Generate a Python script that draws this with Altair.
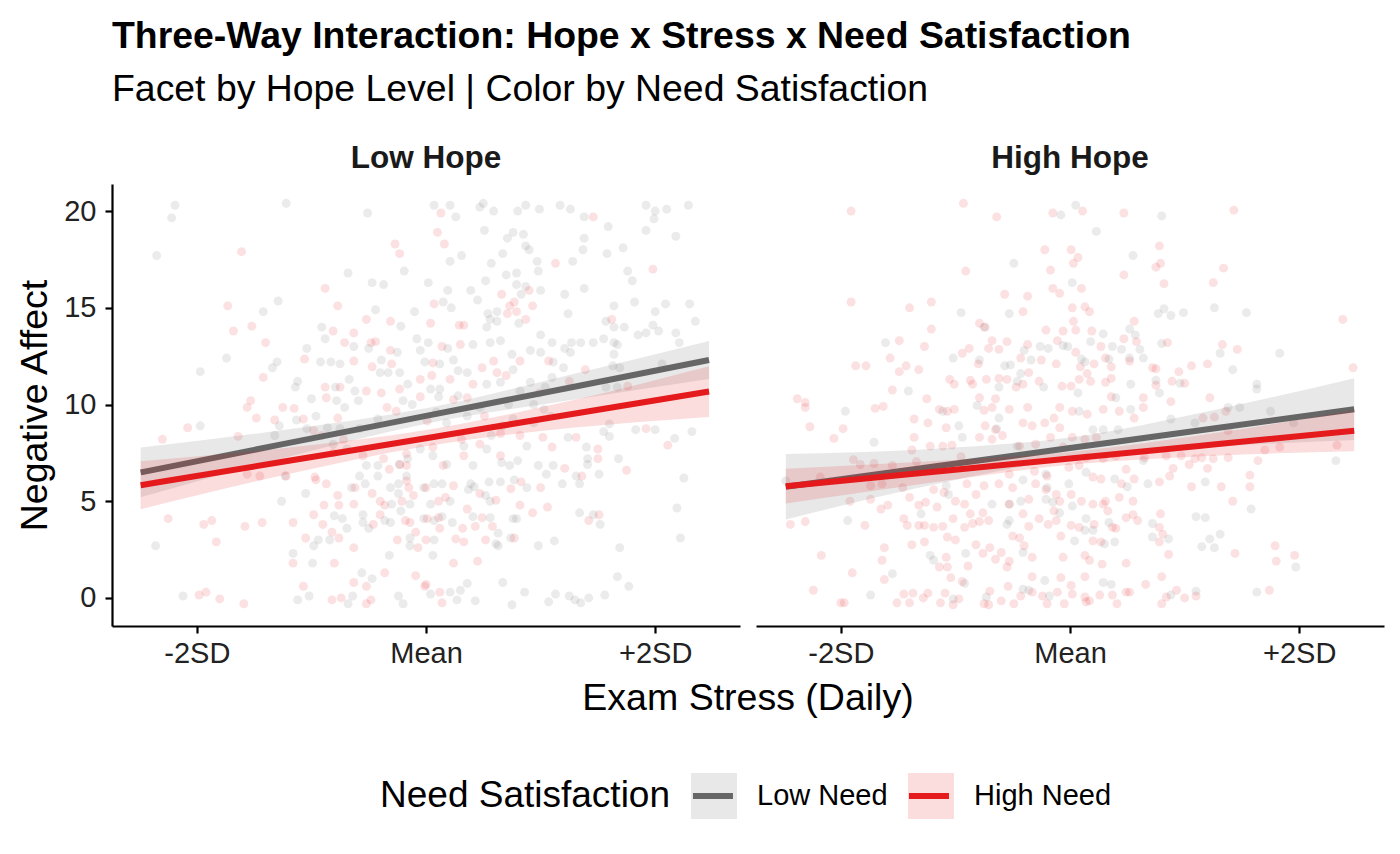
import altair as alt
import pandas as pd

FONT = "Liberation Sans"

HOPE_LEVELS = ["Low Hope", "High Hope"]
NEED_LEVELS = ["Low Need", "High Need"]
NEED_COLORS = ["#666666", "#E41A1C"]

STRESS_TICKS = [-2, 0, 2]
STRESS_TICK_LABELS = ["-2SD", "Mean", "+2SD"]
AFFECT_TICKS = [0, 5, 10, 15, 20]

# Daily observations: (exam stress in SD units, negative affect)
low_hope_low_need = [
    (-2.19, 20.3), (-2.22, 19.65), (-1.22, 20.4), (-0.51, 19.9), (-2.35, 17.7), (-0.68, 16.8),
    (-0.47, 16.3), (-0.37, 16.2), (-0.19, 16.9), (-1.29, 15.35), (-1.42, 14.8), (-1.74, 12.4),
    (-1.97, 11.7), (-0.44, 14.9), (-0.1, 14.8), (-0.91, 14.0), (-1.3, 12.2), (-1.34, 11.9),
    (-1.12, 11.2), (-1.14, 10.9), (-0.22, 14.05),
    (0.07, 20.3), (0.21, 20.3), (0.26, 19.7), (0.47, 20.2), (0.5, 20.4), (0.59, 20.0), (0.8, 20.0),
    (0.87, 20.3), (0.99, 20.1), (1.17, 20.3), (1.26, 20.1), (1.38, 19.7), (1.59, 19.2), (1.92, 20.3),
    (2.0, 20.0), (1.99, 19.6), (2.1, 20.1), (2.29, 20.3), (1.92, 19.0), (2.18, 18.7), (1.72, 18.1),
    (1.58, 17.8), (1.37, 18.0), (1.38, 18.6), (1.28, 17.4), (0.97, 17.4), (0.98, 16.9), (0.79, 16.8),
    (0.7, 16.7), (0.57, 17.3), (0.67, 17.8), (0.51, 19.0), (0.76, 18.9), (0.71, 18.6), (0.85, 18.8),
    (0.87, 18.2), (0.9, 18.0), (0.31, 17.7), (0.21, 17.4), (1.76, 16.9), (1.8, 16.4), (1.38, 16.0),
    (1.21, 15.7), (1.0, 15.9), (0.79, 16.2), (0.87, 16.1), (0.83, 15.7), (0.52, 16.4), (0.39, 15.9),
    (0.19, 15.9), (0.15, 15.3), (0.22, 15.0), (0.45, 15.4), (0.02, 16.3), (1.64, 15.1), (1.82, 15.3),
    (2.0, 14.8), (2.09, 15.2), (2.3, 15.2), (2.35, 14.3), (2.18, 13.7), (2.21, 13.2), (1.98, 14.1),
    (2.03, 13.8), (1.92, 13.7), (1.85, 13.6), (1.73, 14.0), (1.64, 14.0), (1.57, 14.3), (1.24, 14.7),
    (1.64, 13.2), (1.67, 13.1), (1.64, 12.6), (1.55, 13.4), (1.46, 13.2), (1.35, 13.2), (1.27, 13.2),
    (1.26, 12.7), (1.21, 12.9), (0.81, 14.2), (0.62, 14.8), (0.54, 14.7), (0.62, 14.3), (0.56, 14.4),
    (0.53, 14.0), (1.2, 11.9), (1.63, 12.0), (1.69, 11.9), (2.06, 12.1), (1.57, 10.9), (1.67, 10.9),
    (-1.97, 8.9), (-2.36, 2.7), (-2.12, 0.1), (-1.26, 5.0), (-1.05, 5.4), (-1.16, 2.3), (-0.99, 1.8),
    (-1.12, -0.1), (-1.02, 0.1), (-0.68, -0.3), (-0.64, 0.1), (-0.24, 0.1), (-0.2, -0.3), (-0.56, 1.3),
    (-0.47, 1.0), (-0.32, 2.2), (-0.98, 2.7), (-0.94, 3.0), (-0.84, 3.0), (-0.69, 3.6), (-0.55, 4.3),
    (-0.8, 4.25), (-0.73, 4.1), (-0.55, 3.9), (-0.5, 3.6), (-0.31, 3.9), (-0.36, 4.0), (-0.14, 4.85),
    (-0.22, 4.5), (-0.3, 4.85), (-0.02, 4.1), (-0.14, 3.1), (-0.14, 2.7), (-0.65, 5.7), (-0.53, 5.9),
    (-0.24, 5.9), (-0.31, 5.7), (-0.24, 5.4), (-0.02, 5.7), (-1.32, 8.4), (-1.28, 8.9), (-1.23, 6.3),
    (-1.13, 9.2),
    (1.83, 8.7), (2.0, 8.7), (2.17, 8.25), (2.32, 8.6), (1.6, 9.0), (1.6, 8.35), (1.55, 8.6), (1.4, 7.8),
    (1.41, 7.2), (1.41, 6.9), (1.51, 6.4), (1.68, 7.2), (2.25, 6.2), (2.19, 4.65), (2.22, 3.1), (1.69, 2.6),
    (1.67, 1.1), (1.77, 0.6), (1.56, 0.15), (1.42, 0.0), (1.35, -0.25), (1.3, -0.1), (1.25, 0.1),
    (1.13, 0.2), (1.07, -0.2), (0.86, 0.3), (0.75, -0.35), (0.67, 0.8), (0.43, -0.15), (0.36, 0.75),
    (0.3, 0.4), (0.21, 0.3), (0.27, -0.1), (0.04, 0.2), (0.06, 2.2), (0.07, 3.0), (1.24, 8.3), (1.19, 5.9),
    (1.34, 5.9), (1.31, 6.3), (0.88, 5.7), (0.77, 6.1), (0.55, 6.0), (0.65, 6.0), (0.56, 5.0), (0.52, 5.3),
    (0.39, 5.9), (0.37, 5.6), (0.42, 5.75), (0.07, 5.9), (0.14, 5.9), (0.21, 5.0), (0.04, 4.85),
    (0.14, 4.2), (0.07, 4.0), (0.23, 3.9), (0.41, 4.2), (0.56, 4.15), (0.63, 3.35), (0.61, 2.8),
    (0.63, 2.7), (0.74, 3.1), (0.79, 4.1), (0.76, 4.1), (0.98, 2.7), (1.12, 2.95), (1.34, 4.4),
    (1.46, 4.3), (1.52, 3.8),
    (-0.88, 13.4), (-1.04, 12.9), (-0.92, 12.2), (-0.83, 12.2), (-0.75, 12.1), (-0.63, 13.0), (-0.5, 12.9),
    (-0.39, 12.3), (-0.25, 12.7), (-0.08, 13.4), (0.02, 13.2), (-0.05, 12.8), (-0.01, 12.2), (0.12, 12.1),
    (0.19, 12.9), (0.24, 12.3), (0.41, 13.1), (0.56, 13.2), (0.65, 13.3), (0.75, 12.6), (0.91, 12.8),
    (1.0, 12.7), (1.1, 13.2), (1.0, 13.6), (1.11, 12.2), (-0.67, 11.3), (-0.62, 10.7), (-0.79, 10.9),
    (-1.0, 10.3), (-0.78, 10.2), (-0.71, 9.85), (-0.96, 9.4), (-0.86, 8.8), (-0.59, 10.2), (-0.4, 11.65),
    (-0.33, 11.65), (-0.23, 11.65), (-0.16, 11.05), (-0.2, 10.2), (-0.12, 10.0), (0.04, 10.8), (0.12, 10.8),
    (0.11, 10.4), (0.28, 11.75), (0.36, 11.65), (0.28, 10.45), (0.53, 11.05), (0.65, 11.15), (0.76, 11.8),
    (0.82, 10.7), (0.91, 11.15), (1.04, 10.9), (1.1, 11.4), (0.94, 10.0), (1.03, 9.75), (0.72, 10.0),
    (0.47, 9.85), (0.36, 9.4), (0.09, 9.6), (0.18, 9.05), (-0.42, 9.25), (-0.58, 8.75), (-0.75, 8.75),
    (-1.04, 8.75), (-0.81, 7.95), (-0.69, 7.7), (-0.58, 6.3), (-0.52, 6.85), (-0.42, 6.85), (-0.23, 6.9),
    (-0.16, 7.2), (-0.05, 7.7), (0.06, 7.35), (0.18, 6.9), (0.33, 7.85), (0.41, 6.85), (0.53, 7.7),
    (0.66, 7.0), (0.73, 6.85), (0.8, 7.1), (0.88, 7.85), (0.98, 6.85), (1.05, 6.4), (1.11, 6.85),
    (0.57, 8.4), (0.67, 8.9), (0.76, 9.25), (0.94, 9.05), (1.09, 9.4), (-0.42, 6.3), (-0.17, 6.3),
]

low_hope_high_need = [
    (-1.61, 17.9), (-0.27, 18.3), (-0.23, 17.8), (-0.88, 16.0), (-0.77, 15.1), (-1.73, 15.1),
    (-1.68, 13.8), (-1.52, 14.05), (-1.4, 13.2), (-1.42, 11.4), (-0.52, 14.4), (-0.31, 14.3),
    (-1.53, 10.2),
    (0.13, 19.9), (0.1, 18.9), (0.16, 18.3), (1.46, 19.7), (1.13, 17.3), (1.98, 17.0), (0.66, 15.7),
    (0.9, 15.9), (0.07, 15.2), (0.77, 15.3), (0.73, 15.1), (0.79, 14.8), (0.71, 14.7), (0.93, 15.1),
    (0.87, 14.4), (0.04, 14.2), (0.29, 14.1), (0.33, 14.1), (1.39, 11.8), (1.62, 14.4), (1.76, 10.95),
    (1.25, 11.2),
    (-2.3, 8.2), (-2.08, 8.8), (-1.64, 8.35), (-1.48, 9.3), (-1.56, 9.85), (-1.32, 9.2), (-1.25, 9.85),
    (-1.15, 9.8), (-1.56, 6.4), (-1.45, 6.3), (-1.22, 6.3), (-2.25, 4.1), (-1.94, 3.8), (-1.87, 4.0),
    (-1.83, 2.9), (-1.58, 3.7), (-1.43, 3.9), (-1.98, 0.15), (-1.92, 0.3), (-1.8, -0.05), (-1.59, -0.3),
    (-1.16, 3.9), (-1.05, 3.1), (-1.16, 1.8), (-1.07, 0.6), (-0.98, 4.3), (-0.89, 4.8), (-0.9, 3.8),
    (-0.82, 3.4), (-0.96, 6.1), (-0.87, 5.9), (-0.77, 5.3), (-0.76, 4.8), (-0.63, 4.85), (-0.62, 5.7),
    (-0.47, 5.4), (-0.4, 5.0), (-0.36, 4.8), (-0.4, 4.3), (-0.46, 3.8), (-0.76, 3.1), (-0.63, 2.6),
    (-0.8, 1.8), (-0.63, 0.8), (-0.52, 0.6), (-0.36, 1.3), (-0.82, -0.1), (-0.74, 0.0), (-0.52, -0.3),
    (-0.48, -0.1), (-0.17, 6.05), (-0.15, 5.7), (-0.11, 5.3), (-0.21, 5.0), (-0.18, 4.0), (-0.14, 3.9),
    (-0.09, 3.4), (-0.25, 3.0), (-0.07, 2.6), (-0.09, 1.15), (-0.01, 0.6),
    (1.92, 8.75), (2.11, 7.9), (1.5, 7.7), (1.5, 7.2), (1.75, 6.6), (1.36, 6.3), (1.31, 8.3), (1.21, 6.7),
    (1.06, 4.7), (0.93, 4.4), (0.82, 4.8), (1.51, 4.3), (1.42, 4.0), (1.0, 5.7), (0.83, 6.0), (0.74, 5.65),
    (0.47, 5.4), (0.61, 5.05), (0.36, 4.6), (0.49, 4.15), (0.43, 3.7), (0.58, 3.7), (0.32, 3.6),
    (0.12, 3.6), (0.26, 3.05), (0.33, 2.9), (0.52, 3.0), (0.77, 3.1), (0.24, 1.8), (0.45, 1.9), (0.12, 0.3),
    (0.14, -0.25), (0.11, 4.15), (0.01, 4.1), (0.11, 5.0), (0.17, 5.2), (0.24, 5.8), (0.0, 5.7), (0.0, 3.0),
    (0.0, 0.7),
    (-0.81, 13.8), (-0.63, 13.7), (-0.71, 13.2), (-0.48, 13.2), (-0.44, 13.25), (-0.31, 12.8),
    (-0.63, 12.25), (-0.47, 11.95), (-0.3, 12.1), (-1.06, 12.35), (-0.05, 11.3), (0.06, 12.15),
    (0.05, 11.5), (0.14, 13.0), (0.3, 13.1), (0.21, 11.3), (0.41, 11.05), (0.49, 11.9), (0.59, 12.25),
    (0.62, 11.65), (0.7, 11.5), (0.82, 12.25), (1.07, 12.25), (0.99, 10.6), (-0.88, 10.9), (-0.75, 10.9),
    (-0.87, 10.35), (-0.52, 10.7), (-0.39, 10.6), (-0.23, 10.8), (-0.05, 10.4), (-0.34, 9.85),
    (-0.26, 9.65), (-1.07, 9.25), (-0.77, 9.3), (-0.98, 8.65), (-0.91, 8.4), (-0.72, 8.2), (0.24, 10.25),
    (0.36, 10.35), (0.51, 9.4), (0.01, 9.15), (0.31, 8.2), (0.47, 7.95), (0.06, 7.8), (-0.17, 7.45),
    (-0.37, 7.2), (-0.55, 7.35), (-0.81, 7.5), (0.65, 8.5), (0.82, 8.4), (1.02, 8.3), (1.1, 7.8),
    (-0.97, 6.25), (-0.23, 6.9), (0.15, 6.85), (-0.17, 6.85), (-0.32, 6.65), (0.33, 7.35), (0.65, 7.35),
]

high_hope_low_need = [
    (-0.49, 17.3), (-0.95, 14.75), (-0.53, 14.7), (-0.75, 14.0), (-1.61, 13.2), (-1.02, 12.4),
    (-0.79, 12.3), (-0.57, 12.0), (-0.52, 12.05), (-0.43, 11.6), (-0.4, 12.8), (-0.34, 12.3),
    (-0.26, 13.0), (-0.19, 12.9), (-0.08, 19.8), (-0.06, 13.05), (-1.41, 10.7), (-0.62, 10.9),
    (-0.23, 10.9), (-0.46, 11.2),
    (0.05, 20.3), (0.8, 19.75), (0.23, 18.95), (0.55, 17.7), (0.02, 16.3), (0.77, 14.7), (0.82, 14.95),
    (0.88, 14.6), (0.99, 14.75), (1.26, 15.0), (1.54, 14.75), (0.52, 13.9), (0.57, 13.6), (0.29, 13.65),
    (0.18, 13.25), (0.37, 13.0), (0.45, 12.85), (0.61, 12.85), (0.64, 12.4), (0.8, 13.15), (0.52, 12.4),
    (0.34, 12.35), (0.1, 12.35), (0.13, 12.2), (1.31, 12.65), (1.83, 12.65), (1.42, 11.8), (0.53, 11.05),
    (0.78, 10.6), (0.75, 11.25), (0.96, 11.1), (1.63, 11.05), (1.63, 10.8), (0.07, 10.6), (0.4, 10.35),
    (-0.02, 13.0),
    (-1.96, 9.65), (-1.71, 8.05), (-1.94, 4.0), (-2.48, 6.05), (-1.3, 4.35), (-1.08, 5.8), (-1.06, 5.35),
    (-0.91, 2.3), (-1.22, 2.2), (-1.19, 1.95), (-1.55, 1.25), (-0.92, 0.75), (-1.74, 0.15), (-1.02, -0.05),
    (-0.73, 0.05), (-0.62, 9.3), (-0.64, 8.75), (-0.46, 7.85), (-0.94, 8.3), (-1.11, 9.65), (-0.97, 8.9),
    (-0.81, 9.95), (-0.53, 4.0), (-0.53, 4.85), (-0.43, 5.0), (-0.41, 6.1), (-0.21, 5.1), (-0.2, 5.7),
    (-0.15, 4.95), (-0.09, 4.4), (-0.68, 4.85), (-0.55, 3.8), (-0.41, 2.35), (-0.36, 0.4), (-0.22, 0.9),
    (-0.18, 0.1), (-0.41, 0.45), (-0.21, 6.4),
    (1.75, 9.65), (1.95, 9.05), (2.32, 7.1), (1.58, 4.6), (1.1, 4.2), (1.18, 4.15), (1.18, 6.0), (1.31, 3.3),
    (1.22, 3.05), (1.15, 2.65), (1.26, 2.6), (1.97, 1.6), (1.63, 0.3), (1.1, 0.35), (0.88, 0.15),
    (0.36, 0.7), (0.29, 0.8), (0.72, 3.15), (0.72, 3.85), (0.86, 3.05), (0.68, 5.9), (0.5, 5.75),
    (0.39, 6.15), (0.39, 2.9), (0.3, 2.8), (0.2, 3.5), (0.04, 2.95), (0.13, 3.5), (0.02, 4.75), (0.14, 4.1),
    (0.34, 3.9), (0.88, 9.25), (1.09, 9.05), (1.48, 9.85), (1.38, 9.85), (0.53, 9.75), (0.08, 9.65),
    (0.29, 8.7), (0.42, 8.7), (0.2, 8.7), (0.64, 7.1), (0.14, 6.5), (-0.01, 5.9),
]

high_hope_high_need = [
    (-1.91, 20.0), (-0.93, 20.4), (-0.64, 19.7), (-0.15, 19.9), (-0.22, 18.0), (-0.17, 16.95),
    (-0.91, 16.9), (-1.91, 15.3), (-0.57, 15.7), (-0.37, 15.6), (-0.15, 16.0), (-0.09, 15.75),
    (-1.4, 15.0), (-1.21, 15.3), (-0.41, 14.8), (-1.21, 13.9), (-1.49, 13.3), (-1.27, 13.0),
    (-1.57, 12.4), (-1.87, 12.0), (-1.78, 12.0), (-1.49, 11.7), (-1.43, 12.0), (-1.32, 11.8),
    (-1.55, 10.75), (-2.38, 10.3), (-2.31, 10.1), (-1.25, 10.3), (-1.05, 11.3), (-1.01, 11.05),
    (-0.87, 11.25), (-0.85, 11.05), (-0.73, 11.3), (-0.79, 14.2), (-0.74, 14.0), (-0.68, 13.3),
    (-0.71, 12.9), (-0.62, 12.85), (-0.55, 13.25), (-0.88, 12.9), (-0.94, 12.65), (-0.8, 12.1),
    (-0.62, 11.35), (-0.55, 11.3), (-0.47, 10.9), (-0.41, 11.05), (-0.37, 13.1), (-0.43, 12.4),
    (-0.36, 11.65), (-0.25, 12.3), (-0.27, 11.2), (-0.21, 13.85), (-0.11, 13.3), (-0.06, 13.8),
    (-0.12, 12.1), (-0.07, 10.95), (-0.79, 10.35), (-0.65, 10.3),
    (0.11, 20.0), (0.47, 19.9), (1.43, 20.05), (0.78, 18.2), (0.79, 17.3), (0.75, 17.1), (0.47, 16.7),
    (0.82, 16.25), (1.34, 17.05), (1.25, 16.3), (0.01, 18.0), (0.07, 17.6), (0.03, 17.3), (0.1, 16.0),
    (0.02, 15.0), (0.13, 15.05), (0.17, 14.8), (0.03, 14.3), (0.05, 13.85), (0.19, 13.8), (0.56, 14.3),
    (0.47, 13.4), (0.58, 13.25), (0.27, 13.0), (0.05, 12.7), (0.85, 13.2), (1.33, 13.1), (1.46, 12.85),
    (2.38, 14.4), (2.47, 11.9), (1.2, 12.1), (1.06, 12.0), (0.95, 11.7), (0.72, 11.9), (0.75, 11.85),
    (0.52, 12.25), (0.36, 11.95), (0.31, 12.4), (0.21, 12.1), (0.09, 11.95), (0.15, 11.6), (0.08, 11.3),
    (0.18, 11.2), (0.31, 11.15), (0.36, 11.35), (0.75, 11.0), (0.89, 11.2), (1.0, 11.1), (0.01, 10.95),
    (0.64, 10.35), (1.22, 10.35), (0.36, 10.4), (0.88, 10.15),
    (-2.31, 9.85), (-2.27, 8.85), (-1.98, 8.75), (-2.06, 8.25), (-1.7, 9.8), (-1.63, 9.9), (-1.36, 9.25),
    (-1.24, 9.05), (-1.36, 8.3), (-1.38, 7.65), (-1.89, 7.15), (-1.83, 6.9), (-1.71, 6.95), (-1.55, 6.85),
    (-1.34, 7.05), (-1.22, 7.85), (-1.14, 9.75), (-1.07, 9.65), (-1.01, 9.75), (-1.08, 8.8), (-1.03, 7.9),
    (-1.11, 7.85), (-0.95, 7.3), (-2.18, 6.25), (-1.74, 5.8), (-1.64, 5.9), (-1.46, 5.7), (-1.4, 5.2),
    (-1.74, 5.1), (-1.92, 5.0), (-1.65, 4.6), (-1.59, 4.8), (-1.32, 4.8), (-1.26, 4.95), (-1.16, 4.7),
    (-1.19, 5.6), (-1.1, 5.45), (-1.0, 5.0), (-0.92, 4.85), (-0.9, 5.9), (-0.82, 5.35), (-0.75, 5.8),
    (-0.87, 4.35), (-0.76, 4.4), (-1.45, 4.1), (-1.42, 3.75), (-1.32, 3.75), (-1.27, 3.75), (-1.19, 3.65),
    (-1.11, 3.7), (-1.02, 4.1), (-0.92, 3.65), (-0.85, 3.85), (-0.79, 3.95), (-0.71, 4.0), (-1.79, 3.75),
    (-2.31, 3.95), (-2.44, 3.8), (-2.17, 2.2), (-1.9, 1.3), (-1.62, 2.6), (-1.64, 1.95), (-1.62, 0.95),
    (-1.38, 2.75), (-1.27, 2.9), (-1.07, 3.15), (-1.0, 3.0), (-1.08, 2.1), (-1.14, 1.6), (-1.07, 1.6),
    (-0.89, 1.65), (-0.82, 2.75), (-0.76, 2.3), (-0.7, 2.6), (-0.65, 2.0), (-0.6, 2.35), (-2.24, 0.4),
    (-2.0, -0.25), (-1.97, -0.25), (-1.51, -0.25), (-1.45, 0.2), (-1.4, -0.25), (-1.37, 0.25), (-1.28, 0.0),
    (-1.24, 0.25), (-1.13, -0.25), (-1.09, 0.25), (-1.02, -0.35), (-0.97, -0.05), (-1.04, 1.05),
    (-0.94, 0.85), (-0.75, -0.3), (-0.71, -0.35), (-0.7, 0.35), (-0.6, -0.15), (-0.54, 0.6), (-0.49, -0.3),
    (-0.43, 0.1), (-0.33, 1.1), (-0.33, 0.3), (-0.24, 0.1), (-0.2, -0.3), (-0.11, 0.3), (-0.08, 1.05),
    (-0.05, -0.3), (-0.55, 1.6), (-0.53, 1.9), (-0.4, 2.7), (-0.33, 2.1), (-0.5, 3.2), (-0.44, 3.1),
    (-0.36, 3.7), (-0.27, 4.1), (-0.19, 3.8), (-0.12, 4.0), (-0.08, 3.2), (-0.06, 2.1), (-0.53, 4.85),
    (-0.41, 4.35), (-0.36, 5.1), (-0.3, 5.9), (-0.21, 5.6), (-0.12, 5.35), (-0.14, 4.5), (-0.09, 5.0),
    (-0.62, 5.9), (-0.53, 6.4), (-0.5, 5.7), (-0.75, 9.7), (-0.68, 9.85), (-0.53, 9.75), (-0.37, 9.85),
    (-0.09, 9.85), (-0.74, 8.9), (-0.65, 8.7), (-0.41, 9.05), (-0.33, 8.9), (-0.22, 9.05), (-0.14, 9.3),
    (-0.09, 8.8), (-0.79, 8.3), (-0.68, 8.2), (-0.59, 8.4), (-0.44, 7.85), (-0.3, 7.95), (-0.17, 8.3),
    (-0.06, 7.8), (-0.31, 6.55), (-0.2, 6.3),
    (0.02, 9.65), (0.15, 9.5), (0.29, 9.75), (0.43, 9.65), (0.56, 9.3), (0.64, 9.85), (1.16, 9.3),
    (1.26, 9.35), (1.36, 9.65), (1.38, 8.65), (1.83, 7.8), (1.7, 7.65), (2.33, 7.9), (0.02, 8.3),
    (0.13, 8.2), (0.23, 8.3), (0.14, 7.25), (0.29, 7.2), (0.4, 7.35), (0.65, 7.25), (0.84, 7.35),
    (0.97, 7.35), (1.09, 7.2), (1.15, 7.25), (1.25, 7.2), (1.38, 7.25), (1.64, 7.1), (1.04, 6.9),
    (1.2, 6.7), (0.9, 6.7), (0.78, 6.0), (0.87, 6.3), (1.57, 6.35), (1.57, 5.75), (1.32, 5.75),
    (1.06, 5.75), (0.56, 6.15), (0.45, 5.9), (0.49, 6.65), (-0.01, 6.75), (0.08, 6.85), (0.2, 6.25),
    (0.27, 6.15), (0.01, 5.35), (0.1, 5.0), (0.2, 4.85), (0.31, 5.0), (0.33, 4.5), (0.43, 5.2),
    (0.55, 5.0), (0.49, 4.15), (0.59, 4.0), (0.37, 3.65), (0.4, 3.6), (0.01, 3.75), (0.08, 3.65),
    (0.21, 3.8), (0.2, 2.95), (0.27, 2.9), (0.79, 4.35), (0.78, 3.65), (0.81, 3.3), (0.78, 2.9),
    (0.86, 2.25), (1.42, 5.0), (1.44, 2.3), (1.79, 2.7), (1.8, 1.9), (1.96, 2.2), (1.74, 0.4), (0.13, 2.2),
    (0.17, 1.95), (0.28, 1.75), (0.49, 1.8), (0.13, 1.1), (0.01, 0.65), (0.02, 0.2), (0.13, 0.05),
    (0.14, -0.2), (0.17, -0.15), (0.26, 0.15), (0.37, 0.15), (0.49, 0.3), (0.52, 0.3), (0.41, -0.3),
    (0.66, 0.7), (0.8, 1.1), (0.84, 0.05), (0.8, -0.3), (0.93, 0.4), (1.0, 0.0), (1.1, 0.1), (0.55, 4.3),
    (0.29, 4.85),
]

# Fitted regression lines with 95% confidence bands, read at five stress levels
band_x_low_hope = [-2.49, -1.25, 0.0, 1.25, 2.47]
band_x_high_hope = [-2.48, -1.25, 0.0, 1.25, 2.48]

low_hope_low_need_fit = [6.49, 7.95, 9.41, 10.87, 12.30]
low_hope_low_need_lo = [5.20, 7.22, 9.01, 10.22, 11.32]
low_hope_low_need_hi = [7.78, 8.68, 9.81, 11.52, 13.28]

low_hope_high_need_fit = [5.83, 7.04, 8.26, 9.48, 10.67]
low_hope_high_need_lo = [4.59, 6.34, 7.84, 8.78, 9.36]
low_hope_high_need_hi = [7.07, 7.74, 8.68, 10.18, 11.98]

high_hope_low_need_fit = [5.75, 6.74, 7.75, 8.76, 9.76]
high_hope_low_need_lo = [4.06, 5.79, 7.20, 7.81, 8.16]
high_hope_low_need_hi = [7.44, 7.69, 8.30, 9.71, 11.36]

high_hope_high_need_fit = [5.78, 6.49, 7.21, 7.93, 8.64]
high_hope_high_need_lo = [4.88, 5.93, 6.88, 7.35, 7.58]
high_hope_high_need_hi = [6.68, 7.05, 7.54, 8.51, 9.70]

rows = []
for hope, need, pts in [
    ("Low Hope", "Low Need", low_hope_low_need),
    ("Low Hope", "High Need", low_hope_high_need),
    ("High Hope", "Low Need", high_hope_low_need),
    ("High Hope", "High Need", high_hope_high_need),
]:
    for x, y in pts:
        rows.append({"kind": "pt", "hope": hope, "need": need, "x": x, "y": y})

for hope, need, xs, fit, lo, hi in [
    ("Low Hope", "Low Need", band_x_low_hope, low_hope_low_need_fit, low_hope_low_need_lo, low_hope_low_need_hi),
    ("Low Hope", "High Need", band_x_low_hope, low_hope_high_need_fit, low_hope_high_need_lo, low_hope_high_need_hi),
    ("High Hope", "Low Need", band_x_high_hope, high_hope_low_need_fit, high_hope_low_need_lo, high_hope_low_need_hi),
    ("High Hope", "High Need", band_x_high_hope, high_hope_high_need_fit, high_hope_high_need_lo, high_hope_high_need_hi),
]:
    for x, f, l, h in zip(xs, fit, lo, hi):
        rows.append({"kind": "fit", "hope": hope, "need": need, "x": x, "fit": f, "lo": l, "hi": h})

df = pd.DataFrame(rows)
# separate field for the ribbons so their key gets its own legend, drawn under the line key
df["need_band"] = df["need"]

x_scale = alt.Scale(domain=[-2.74, 2.74], nice=False, zero=False)
y_scale = alt.Scale(domain=[-1.45, 21.4], nice=False, zero=False)
label_expr = "datum.value == -2 ? '-2SD' : (datum.value == 0 ? 'Mean' : '+2SD')"
x_axis = alt.Axis(values=STRESS_TICKS, labelExpr=label_expr, title=None, labelPadding=6)
y_axis = alt.Axis(values=AFFECT_TICKS, title="Negative Affect", titlePadding=9, labelPadding=9)

# legend: ribbon swatches with labels, and the line keys laid over them
KEY_SIZE = 46
LABEL_SIZE = 29
LABEL_OFFSET = 20
COLUMN_PAD = 20
LEGEND_TITLE = "Need Satisfaction"
LEGEND_TITLE_SIZE = 37
LEGEND_TITLE_PAD = 20
LEG_X = 268
LEG_Y = 589
TITLE_WIDTH = 7.837 * LEGEND_TITLE_SIZE      # width of the title in Liberation Sans
LINE_KEY_GAP = 152                           # gap between the two line keys

fill_legend = alt.Legend(
    orient="none", legendX=LEG_X, legendY=LEG_Y, direction="horizontal",
    title=LEGEND_TITLE, titleOrient="left", titleFont=FONT, titleFontSize=LEGEND_TITLE_SIZE,
    titleFontWeight="normal", titleColor="black", titlePadding=LEGEND_TITLE_PAD,
    titleBaseline="middle", titleLimit=600,
    labelFont=FONT, labelFontSize=LABEL_SIZE, labelColor="black", labelOffset=LABEL_OFFSET,
    columnPadding=COLUMN_PAD, symbolSize=KEY_SIZE ** 2, symbolType="square",
    symbolOpacity=0.15, symbolStrokeWidth=0,
)

stroke_legend = alt.Legend(
    orient="none", legendX=LEG_X + TITLE_WIDTH + LEGEND_TITLE_PAD, legendY=LEG_Y,
    direction="horizontal", title=None, labelExpr="''", labelOffset=0, labelFontSize=LABEL_SIZE,
    columnPadding=LINE_KEY_GAP,
    symbolType="stroke", symbolSize=(KEY_SIZE - 6) ** 2, symbolStrokeWidth=6,
)

color_scale = alt.Scale(range=NEED_COLORS)

points = alt.Chart().mark_circle(size=80, opacity=0.13).encode(
    x=alt.X("x:Q", scale=x_scale, axis=x_axis),
    y=alt.Y("y:Q", scale=y_scale, axis=y_axis),
    color=alt.Color("need:N", sort=NEED_LEVELS, scale=color_scale, legend=None),
).transform_filter(alt.datum.kind == "pt")


def band(need):
    return alt.Chart().mark_area(opacity=0.15, interpolate="monotone").encode(
        x=alt.X("x:Q", scale=x_scale, axis=x_axis),
        y=alt.Y("lo:Q", scale=y_scale, axis=y_axis),
        y2="hi:Q",
        fill=alt.Fill("need_band:N", sort=NEED_LEVELS, scale=color_scale, legend=fill_legend),
    ).transform_filter((alt.datum.kind == "fit") & (alt.datum.need == need))


def fit_line(need):
    return alt.Chart().mark_line(strokeWidth=6, interpolate="monotone").encode(
        x=alt.X("x:Q", scale=x_scale, axis=x_axis),
        y=alt.Y("fit:Q", scale=y_scale, axis=y_axis),
        stroke=alt.Stroke("need:N", sort=NEED_LEVELS, scale=color_scale, legend=stroke_legend),
    ).transform_filter((alt.datum.kind == "fit") & (alt.datum.need == need))


layered = alt.layer(
    points,
    band("Low Need"), fit_line("Low Need"),
    band("High Need"), fit_line("High Need"),
).properties(width=628, height=442)

chart = layered.facet(
    data=df,
    column=alt.Column(
        "hope:N", sort=HOPE_LEVELS,
        header=alt.Header(
            labelOrient="top", labelFont=FONT, labelFontSize=31.5, labelFontWeight="bold",
            labelColor="#1A1A1A", labelPadding=10,
            title="Exam Stress (Daily)", titleOrient="bottom", titleFont=FONT,
            titleFontSize=37.5, titleFontWeight="normal", titleColor="black", titlePadding=2,
        ),
    ),
    spacing=16,
).properties(
    title=alt.TitleParams(
        text="Three-Way Interaction: Hope x Stress x Need Satisfaction",
        subtitle="Facet by Hope Level | Color by Need Satisfaction",
        anchor="start", frame="group", font=FONT, fontSize=37.4, fontWeight="bold", color="black",
        subtitleFont=FONT, subtitleFontSize=37.4, subtitleColor="black", subtitlePadding=16, offset=34,
    ),
    padding={"left": 16, "top": 17, "right": 5, "bottom": 5},
).configure_view(
    stroke=None
).configure_axis(
    grid=False, domainColor="black", domainWidth=2.2, tickColor="black", tickWidth=2.2, tickSize=7,
    labelFont=FONT, labelFontSize=29, labelColor="#222222",
    titleFont=FONT, titleFontSize=37.5, titleFontWeight="normal", titleColor="black",
)

chart.save("out.html", embed_options={"renderer": "svg", "actions": False})
